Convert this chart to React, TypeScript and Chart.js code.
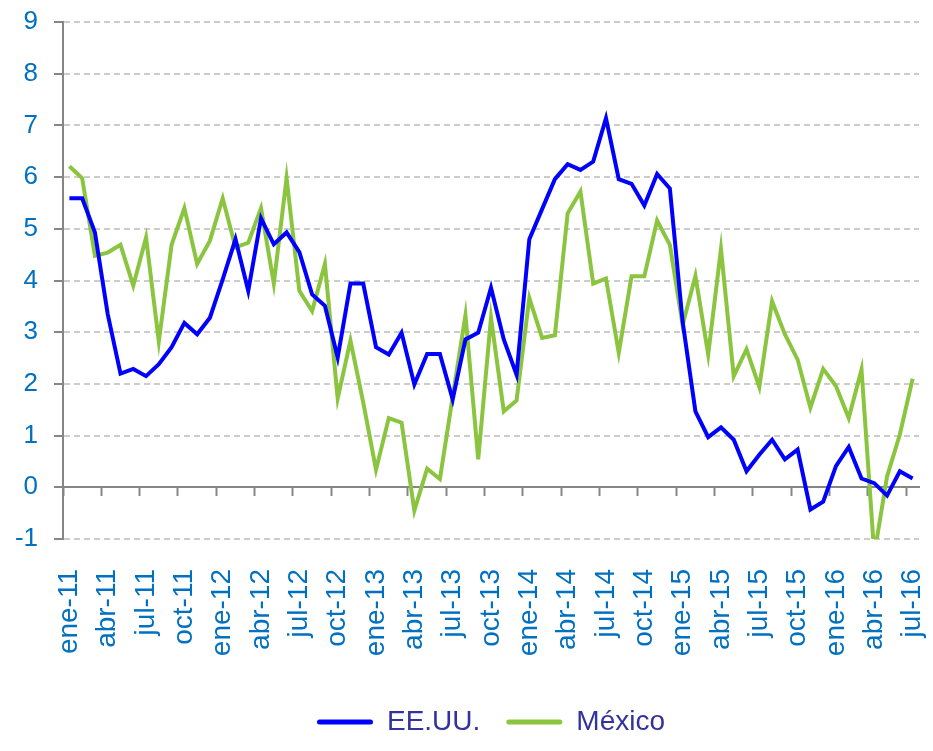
import React, { useEffect, useRef } from 'react';
import { Chart, registerables } from 'chart.js';

Chart.register(...registerables);

const MONTHS = ['ene', 'feb', 'mar', 'abr', 'may', 'jun', 'jul', 'ago', 'sep', 'oct', 'nov', 'dic'];
const YEARS = ['11', '12', '13', '14', '15', '16'];
const LABELS: string[] = YEARS.flatMap((y) => MONTHS.map((m) => `${m}-${y}`)).slice(0, 67);

const EEUU = [
  5.59, 5.59, 4.93, 3.35, 2.2, 2.29, 2.15, 2.38, 2.71, 3.18, 2.96, 3.28,
  4.02, 4.8, 3.8, 5.2, 4.7, 4.93, 4.55, 3.73, 3.51, 2.51, 3.94, 3.94,
  2.71, 2.57, 2.99, 1.99, 2.58, 2.58, 1.7, 2.86, 2.99, 3.86, 2.86, 2.18,
  4.8, 5.38, 5.96, 6.25, 6.14, 6.3, 7.14, 5.96, 5.87, 5.45, 6.06, 5.78,
  3.2, 1.47, 0.97, 1.16, 0.92, 0.31, 0.63, 0.92, 0.54, 0.73, -0.43, -0.28,
  0.41, 0.78, 0.17, 0.08, -0.16, 0.31, 0.17,
];

const MEXICO = [
  6.21, 5.98, 4.48, 4.54, 4.69, 3.9, 4.83, 2.82, 4.69, 5.4, 4.32, 4.77,
  5.59, 4.64, 4.73, 5.4, 3.94, 5.98, 3.8, 3.41, 4.32, 1.72, 2.84, 1.64,
  0.34, 1.34, 1.25, -0.45, 0.36, 0.16, 1.75, 3.33, 0.54, 3.28, 1.47, 1.68,
  3.66, 2.89, 2.94, 5.3, 5.72, 3.94, 4.04, 2.6, 4.08, 4.08, 5.16, 4.69,
  3.14, 4.09, 2.57, 4.61, 2.15, 2.67, 1.94, 3.6, 2.96, 2.47, 1.54, 2.29,
  1.96, 1.34, 2.28, -1.3, 0.21, 1.02, 2.1,
];

const SERIES_NAMES = ['EE.UU.', 'México'];
const Y_MIN = -1;
const Y_MAX = 9;

const FONT = 'Liberation Sans, Arial, Helvetica, sans-serif';
const BLUE = '#0000FF';
const GREEN = '#8BC53F';
const TICK_TEXT = '#0070C0';
const LEGEND_TEXT = '#3333A0';
const AXIS_GRAY = '#868686';
const GRID_GRAY = '#CCCCCC';

export default function App() {
  const canvasRef = useRef<HTMLCanvasElement | null>(null);

  useEffect(() => {
    const canvas = canvasRef.current;
    if (!canvas) return;
    const chart = new Chart(canvas, {
      type: 'line',
      data: {
        labels: LABELS,
        datasets: [
          {
            label: SERIES_NAMES[0],
            data: EEUU,
            borderColor: BLUE,
            backgroundColor: BLUE,
            borderWidth: 4,
            pointRadius: 0,
            tension: 0,
            fill: false,
          },
          {
            label: SERIES_NAMES[1],
            data: MEXICO,
            borderColor: GREEN,
            backgroundColor: GREEN,
            borderWidth: 4,
            pointRadius: 0,
            tension: 0,
            fill: false,
          },
        ],
      },
      options: {
        animation: false,
        responsive: true,
        maintainAspectRatio: false,
        layout: { padding: { top: 22, right: 14, bottom: 5, left: 0 } },
        plugins: {
          tooltip: { enabled: false },
          legend: {
            position: 'bottom',
            fullSize: false,
            labels: {
              boxWidth: 56,
              boxHeight: 5,
              padding: 26,
              color: LEGEND_TEXT,
              font: { size: 28, family: FONT },
              useBorderRadius: true,
              borderRadius: 2.5,
              generateLabels: (c: any) =>
                Chart.defaults.plugins.legend.labels.generateLabels(c).map((l: any) => ({
                  ...l,
                  fillStyle: l.strokeStyle,
                  lineWidth: 0,
                })),
            },
          },
        },
        scales: {
          x: {
            type: 'category',
            position: 'bottom',
            offset: true,
            grid: { display: false },
            border: { display: false },
            ticks: {
              autoSkip: false,
              maxRotation: 90,
              minRotation: 90,
              padding: 22,
              color: TICK_TEXT,
              font: { size: 28, family: FONT },
              callback: (_v: any, i: number) => (i % 3 === 0 ? LABELS[i] : ''),
            },
            afterFit: (s: any) => {
              s.height = 143;
              s.paddingLeft = 0;
              s.paddingRight = 0;
            },
          },
          x2: {
            type: 'category',
            position: { y: 0 } as any,
            offset: true,
            grid: {
              display: true,
              drawOnChartArea: false,
              drawTicks: true,
              offset: true,
              tickLength: 8,
              tickWidth: 2,
              tickColor: (ctx: any) => (ctx.index % 3 === 0 ? AXIS_GRAY : 'rgba(0,0,0,0)'),
            },
            border: { display: true, color: AXIS_GRAY, width: 2 },
            ticks: { display: false, autoSkip: false },
            afterFit: (s: any) => {
              s.height = 0;
              s.paddingLeft = 0;
              s.paddingRight = 0;
            },
          },
          y: {
            min: Y_MIN,
            max: Y_MAX,
            ticks: {
              stepSize: 1,
              padding: 16,
              color: TICK_TEXT,
              font: { size: 26, family: FONT },
            },
            grid: {
              color: GRID_GRAY,
              lineWidth: 2,
              tickColor: AXIS_GRAY,
              tickLength: 9,
              tickWidth: 2,
              tickBorderDash: [],
            },
            border: { display: true, color: AXIS_GRAY, width: 2, dash: [6, 4] },
            afterFit: (s: any) => {
              s.width = 63;
              s.paddingTop = 0;
              s.paddingBottom = 0;
            },
          },
        },
      },
    });
    return () => chart.destroy();
  }, []);

  return (
    <div style={{ position: 'absolute', left: 0, top: 0, width: 933, height: 751 }}>
      <canvas ref={canvasRef} />
    </div>
  );
}
